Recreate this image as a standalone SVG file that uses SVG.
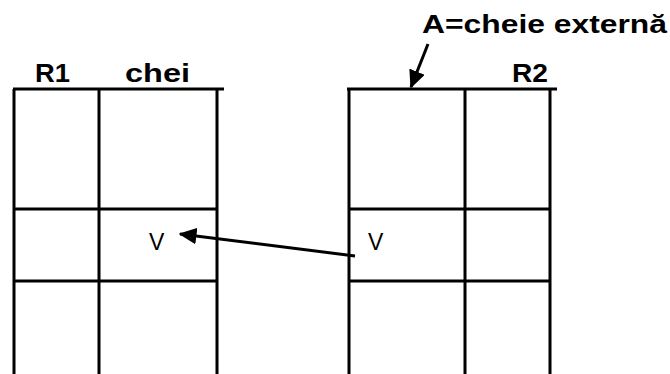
<svg xmlns="http://www.w3.org/2000/svg" width="670" height="374" viewBox="0 0 670 374">
<defs>
<style>
.ln{stroke:#000;stroke-width:3;fill:none;stroke-linecap:butt}
.b{font-family:"Liberation Sans",Arial,sans-serif;font-weight:bold;font-size:25px;fill:#000}
.v{font-family:"Liberation Sans",Arial,sans-serif;font-size:23px;fill:#000}
</style>
<marker id="ah" markerWidth="6" markerHeight="5.5" refX="5.5" refY="2.75" orient="auto" markerUnits="strokeWidth">
<path d="M0,0 L6,2.75 L0,5.5 Z" fill="#000"/>
</marker>
</defs>
<rect width="670" height="374" fill="#fff"/>
<g id="R1">
<line class="ln" x1="13" y1="89" x2="224" y2="89"/>
<line class="ln" x1="14" y1="89" x2="14" y2="374"/>
<line class="ln" x1="99" y1="89" x2="99" y2="374"/>
<line class="ln" x1="217" y1="89" x2="217" y2="374"/>
<line class="ln" x1="14" y1="209" x2="217" y2="209"/>
<line class="ln" x1="14" y1="281" x2="217" y2="281"/>
<text class="b" x="35" y="82" textLength="35" lengthAdjust="spacingAndGlyphs">R1</text>
<text class="b" x="125" y="82" textLength="65" lengthAdjust="spacingAndGlyphs">chei</text>
<text class="v" x="149" y="250">V</text>
</g>
<g id="R2">
<line class="ln" x1="347" y1="89" x2="557" y2="89"/>
<line class="ln" x1="349" y1="89" x2="349" y2="374"/>
<line class="ln" x1="465" y1="89" x2="465" y2="374"/>
<line class="ln" x1="550" y1="89" x2="550" y2="374"/>
<line class="ln" x1="349" y1="209" x2="550" y2="209"/>
<line class="ln" x1="349" y1="281" x2="550" y2="281"/>
<text class="b" x="512" y="82" textLength="36" lengthAdjust="spacingAndGlyphs">R2</text>
<text class="v" x="368" y="250">V</text>
</g>
<g id="label">
<text class="b" x="422" y="33" textLength="245" lengthAdjust="spacingAndGlyphs">A=cheie externă</text>
</g>
<g id="connectors">
<line class="ln" x1="355" y1="256" x2="180" y2="234" marker-end="url(#ah)"/>
<line class="ln" x1="428" y1="44" x2="411" y2="87" marker-end="url(#ah)"/>
</g>
</svg>
